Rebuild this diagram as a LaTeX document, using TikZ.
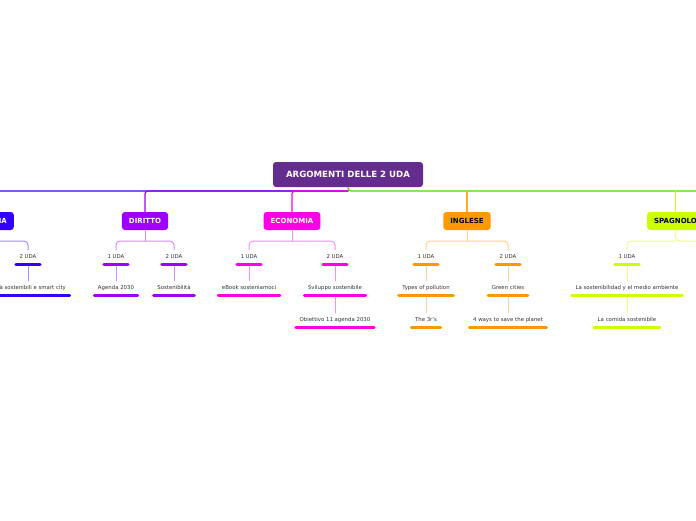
\documentclass[tikz,border=0pt]{standalone}
\usepackage{fontspec}
\setmainfont{DejaVu Sans}
\usetikzlibrary{positioning}

\definecolor{rootc}{HTML}{652C90}
\definecolor{geoc}{HTML}{3300FF}
\definecolor{dirc}{HTML}{9E00FF}
\definecolor{ecoc}{HTML}{FF00E6}
\definecolor{ingc}{HTML}{FF9900}
\definecolor{spac}{HTML}{CCFF00}
\definecolor{mainc}{HTML}{44DD00}
\definecolor{txtc}{HTML}{333333}

\begin{document}
\begin{tikzpicture}[x=1pt, y=-1pt, line cap=round,
  topic/.style={rectangle, rounded corners=3pt, minimum height=18pt, inner xsep=7pt,
    font=\fontsize{7}{8}\selectfont\bfseries, fill=#1, text=white},
  leaf/.style={font=\fontsize{5.4}{6}\selectfont, text=txtc, text height=4pt,
    text depth=1pt, inner xsep=3.5pt, inner ysep=4.5pt},
  bar/.style={line width=3pt, draw=#1},
  trunk/.style={line width=1.2pt, draw=#1, rounded corners=3pt},
  twig/.style={line width=1pt, draw=#1!45, rounded corners=4pt}]

  \useasboundingbox (0,0) rectangle (696,520);
  \clip (0,0) rectangle (696,520);

  % main topic
  \node[topic=rootc, minimum width=150pt, minimum height=25pt,
        font=\fontsize{8.6}{9}\selectfont\bfseries] (root) at (348,174.5) {ARGOMENTI DELLE 2 UDA};
  \coordinate (hub) at (348,191);
  \coordinate (far) at (696,191);
  \coordinate (lvl) at (0,241);

  % subjects
  \node[topic=geoc, anchor=east] (geo) at (14,221) {GEOGRAFIA};
  \node[topic=dirc] (dir) at (145,221) {DIRITTO};
  \node[topic=ecoc] (eco) at (292,221) {ECONOMIA};
  \node[topic=ingc, text=black] (ing) at (467,221) {INGLESE};
  \node[topic=spac, text=black, anchor=west] (spa) at (647,221) {SPAGNOLO};

  \draw[trunk=geoc] (hub) -| (geo.north);
  \draw[trunk=dirc] (hub) -| (dir.north);
  \draw[trunk=ecoc] (hub) -| (eco.north);
  \draw[trunk=mainc] (root.south) -- (hub) -- (far);
  \draw[trunk=ingc!85] (ing.north |- hub) -- (ing.north);
  \draw[trunk=spac!85] (spa.north |- hub) -- (spa.north);

  % UDA
  \node[leaf] (geo2) at (28,257) {2 UDA};
  \node[leaf] (dir1) at (116,257) {1 UDA};
  \node[leaf] (dir2) at (174,257) {2 UDA};
  \node[leaf] (eco1) at (249,257) {1 UDA};
  \node[leaf] (eco2) at (335,257) {2 UDA};
  \node[leaf] (ing1) at (426,257) {1 UDA};
  \node[leaf] (ing2) at (508,257) {2 UDA};
  \node[leaf] (spa1) at (627,257) {1 UDA};

  % topics
  \node[leaf] (geo21) at (28,288) {Città sostenibili e smart city};
  \node[leaf] (dir11) at (116,288) {Agenda 2030};
  \node[leaf] (dir21) at (174,288) {Sostenibilità};
  \node[leaf] (eco11) at (249,288) {eBook sosteniamoci};
  \node[leaf] (eco21) at (335,288) {Sviluppo sostenibile};
  \node[leaf] (ing11) at (426,288) {Types of pollution};
  \node[leaf] (ing21) at (508,288) {Green cities};
  \node[leaf] (spa11) at (627,288) {La sostenibilidad y el medio ambiente};
  \node[leaf] (eco211) at (335,320) {Obiettivo 11 agenda 2030};
  \node[leaf] (ing111) at (426,320) {The 3r's};
  \node[leaf] (ing211) at (508,320) {4 ways to save the planet};
  \node[leaf] (spa111) at (627,320) {La comida sostenibile};

  % forks under the subjects
  \foreach \s in {geo, dir, eco, ing, spa}
    \coordinate (\s F) at (\s.south |- lvl);
  \coordinate (spaE) at (696,241);
  \draw[twig=dirc] (dir.south) -- (dirF);
  \draw[twig=ecoc] (eco.south) -- (ecoF);
  \draw[twig=ingc] (ing.south) -- (ingF);
  \draw[twig=spac] (spa.south) -- (spaF) -- (spaE);
  \draw[twig=geoc] (geoF) -| (geo2.north);
  \draw[twig=dirc] (dirF) -| (dir1.north);
  \draw[twig=dirc] (dirF) -| (dir2.north);
  \draw[twig=ecoc] (ecoF) -| (eco1.north);
  \draw[twig=ecoc] (ecoF) -| (eco2.north);
  \draw[twig=ingc] (ingF) -| (ing1.north);
  \draw[twig=ingc] (ingF) -| (ing2.north);
  \draw[twig=spac] (spaF) -| (spa1.north);

  % straight links
  \foreach \a/\b/\c in {geo2/geo21/geoc, dir1/dir11/dirc, dir2/dir21/dirc,
      eco1/eco11/ecoc, eco2/eco21/ecoc, eco21/eco211/ecoc, ing1/ing11/ingc,
      ing11/ing111/ingc, ing2/ing21/ingc, ing21/ing211/ingc, spa1/spa11/spac,
      spa11/spa111/spac}
    \draw[twig=\c] (\a.south) -- (\b.north);

  % underline bars
  \foreach \n/\c in {geo2/geoc, geo21/geoc, dir1/dirc, dir2/dirc, dir11/dirc,
      dir21/dirc, eco1/ecoc, eco2/ecoc, eco11/ecoc, eco21/ecoc, eco211/ecoc,
      ing1/ingc, ing2/ingc, ing11/ingc, ing21/ingc, ing111/ingc, ing211/ingc,
      spa1/spac, spa11/spac, spa111/spac}
    \draw[bar=\c] (\n.south west) -- (\n.south east);
\end{tikzpicture}
\end{document}
